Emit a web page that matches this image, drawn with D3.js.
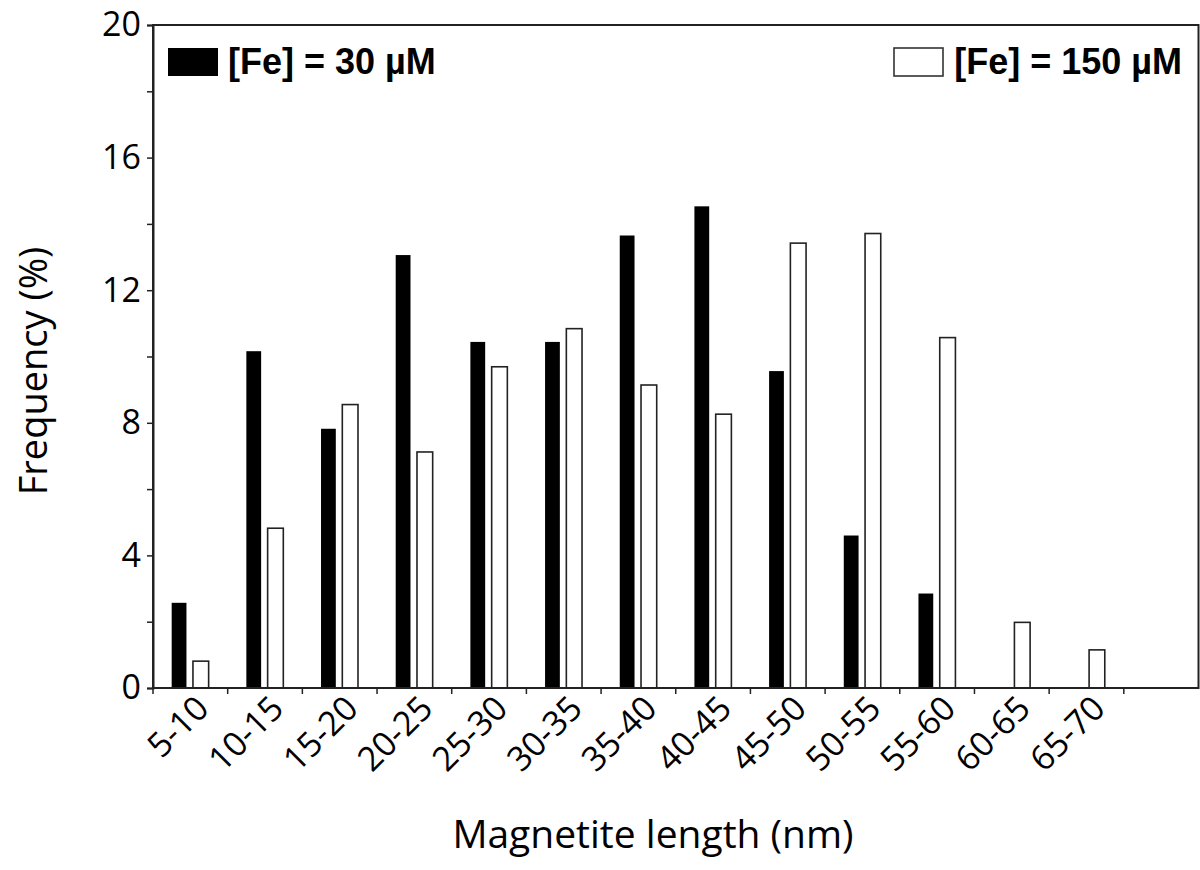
<!DOCTYPE html>
<html>
<head>
<meta charset="utf-8">
<script src="https://cdn.jsdelivr.net/npm/d3@7/dist/d3.min.js"></script>
<style>
  html, body { margin: 0; padding: 0; background: #fff; }
  svg { display: block; }
</style>
</head>
<body>
<div id="chart"></div>
<script>
// Magnetite length distribution, two iron concentrations

const categories = ["5-10", "10-15", "15-20", "20-25", "25-30", "30-35", "35-40",
  "40-45", "45-50", "50-55", "55-60", "60-65", "65-70"];
const fe30 = [2.57, 10.16, 7.82, 13.06, 10.44, 10.44, 13.65, 14.53, 9.56, 4.60, 2.85, 0, 0];
const fe150 = [0.81, 4.82, 8.55, 7.12, 9.69, 10.84, 9.14, 8.26, 13.42, 13.71, 10.57, 1.98, 1.15];
const yTicks = [0, 4, 8, 12, 16, 20];
const yMinorTicks = [2, 6, 10, 14, 18];
const legendLabels = ["[Fe] = 30 µM", "[Fe] = 150 µM"];

const width = 1200, height = 870;
const margin = { top: 25, right: 1.5, bottom: 182, left: 153 };
const plotW = width - margin.left - margin.right;
const plotH = height - margin.top - margin.bottom;

// one empty slot is left after the last class
const nSlots = categories.length + 1;
const step = plotW / nSlots;

const svg = d3.select("#chart").append("svg")
  .attr("width", width)
  .attr("height", height);

const g = svg.append("g").attr("transform", `translate(${margin.left},${margin.top})`);

const x = d3.scaleBand()
  .domain(categories)
  .range([0, step * categories.length])
  .padding(0);

const y = d3.scaleLinear().domain([0, 20]).range([plotH, 0]);

const tickFont = "'Open Sans', 'Noto Sans', sans-serif";

// ---- bars ----
const rows = categories.map((c, i) => ({ c, a: fe30[i], b: fe150[i] }));

g.selectAll("rect.fe30")
  .data(rows.filter(d => d.a > 0))
  .join("rect")
  .attr("class", "fe30")
  .attr("x", d => x(d.c) + 0.25 * step)
  .attr("width", 0.198 * step)
  .attr("y", d => y(d.a))
  .attr("height", d => y(0) - y(d.a))
  .attr("fill", "#000");

g.selectAll("rect.fe150")
  .data(rows.filter(d => d.b > 0))
  .join("rect")
  .attr("class", "fe150")
  .attr("x", d => x(d.c) + 0.535 * step)
  .attr("width", 0.21 * step)
  .attr("y", d => y(d.b))
  .attr("height", d => y(0) - y(d.b))
  .attr("fill", "#fff")
  .attr("stroke", "#222")
  .attr("stroke-width", 1.6);

// ---- frame ----
g.append("rect")
  .attr("x", 0).attr("y", 0)
  .attr("width", plotW).attr("height", plotH)
  .attr("fill", "none")
  .attr("stroke", "#222")
  .attr("stroke-width", 2);

// ---- y axis ----
const yAxis = g.append("g")
  .call(d3.axisLeft(y).tickValues(yTicks).tickSize(6).tickPadding(6).tickFormat(d3.format("d")));
yAxis.select(".domain").attr("stroke", "#222").attr("stroke-width", 2);
yAxis.selectAll(".tick line").attr("stroke", "#222").attr("stroke-width", 1.5);
yAxis.selectAll(".tick text")
  .attr("font-family", tickFont)
  .attr("font-size", 34)
  .attr("fill", "#000");

const yMinor = g.append("g")
  .call(d3.axisLeft(y).tickValues(yMinorTicks).tickSize(6).tickFormat(""));
yMinor.select(".domain").remove();
yMinor.selectAll(".tick line").attr("stroke", "#222").attr("stroke-width", 1.5);

// ---- x axis ----
const boundaries = d3.range(nSlots);
const xTicks = g.append("g").attr("transform", `translate(0,${plotH})`);
xTicks.selectAll("line")
  .data(boundaries)
  .join("line")
  .attr("x1", i => i * step).attr("x2", i => i * step)
  .attr("y1", 0).attr("y2", 6)
  .attr("stroke", "#222")
  .attr("stroke-width", 1.5);

xTicks.selectAll("text")
  .data(categories)
  .join("text")
  .attr("transform", c => `translate(${x(c) + x.bandwidth() / 2 + 12},${14}) rotate(-45)`)
  .attr("text-anchor", "end")
  .attr("dy", "0.35em")
  .attr("font-family", tickFont)
  .attr("font-size", 34)
  .attr("fill", "#000")
  .text(c => c);

// ---- axis titles ----
svg.append("text")
  .attr("x", 653)
  .attr("y", 848)
  .attr("text-anchor", "middle")
  .attr("font-family", tickFont)
  .attr("font-size", 39)
  .attr("fill", "#000")
  .text("Magnetite length (nm)");

svg.append("text")
  .attr("transform", `translate(47,371) rotate(-90)`)
  .attr("text-anchor", "middle")
  .attr("font-family", tickFont)
  .attr("font-size", 38)
  .attr("fill", "#000")
  .text("Frequency (%)");

// ---- legend ----
const legFont = "'Liberation Sans', Arial, sans-serif";
const leg = svg.append("g");
leg.append("rect")
  .attr("x", 168).attr("y", 48)
  .attr("width", 50).attr("height", 28)
  .attr("fill", "#000");
leg.append("text")
  .attr("x", 228).attr("y", 74)
  .attr("font-family", legFont)
  .attr("font-weight", "bold")
  .attr("font-size", 36)
  .text(legendLabels[0]);

leg.append("rect")
  .attr("x", 894).attr("y", 48)
  .attr("width", 49).attr("height", 28)
  .attr("fill", "#fff")
  .attr("stroke", "#333")
  .attr("stroke-width", 1.6);
leg.append("text")
  .attr("x", 1182).attr("y", 74)
  .attr("text-anchor", "end")
  .attr("font-family", legFont)
  .attr("font-weight", "bold")
  .attr("font-size", 36)
  .text(legendLabels[1]);
</script>
</body>
</html>
